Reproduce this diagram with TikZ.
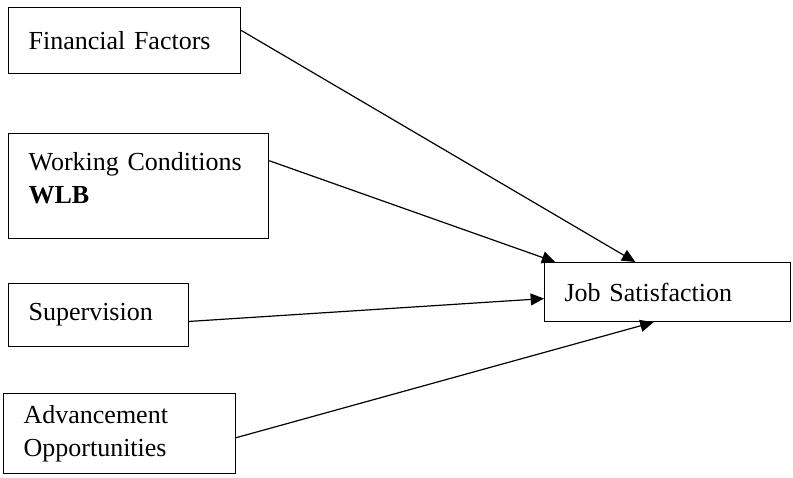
\documentclass[tikz,border=0pt]{standalone}
\usepackage{fontspec}
\setmainfont{Liberation Serif}
\usetikzlibrary{arrows.meta}
\tikzstyle{factor} = [rectangle,draw=black,line width=0.9pt,anchor=north west,
                      align=left,inner xsep=15pt,inner ysep=0pt,
                      font=\fontsize{19.5}{25}\selectfont]
\tikzstyle{arrow} = [line width=0.9pt,-{Triangle[length=10pt,width=9pt]}]

\begin{document}
\begin{tikzpicture}[x=0.75pt,y=-0.75pt]
 \useasboundingbox (0,0) rectangle (793,478);
 \node (FF) [factor,text width=144pt,minimum height=49.5pt] at (8,7) {Financial Factors};
 \node (WC) [factor,text width=165pt,minimum height=78.75pt] at (8,133)
            {Working Conditions\\\textbf{WLB}\\[-13pt]\mbox{}};
 \node (SU) [factor,text width=105pt,minimum height=47.25pt] at (8,283) {Supervision};
 \node (AO) [factor,text width=144pt,minimum height=60pt] at (3,393)
            {Advancement\\Opportunities};
 \node (JS) [factor,text width=154.5pt,minimum height=44.25pt] at (544,262) {Job Satisfaction};
 \draw [arrow] (FF.5) -- (JS.137);
 \draw [arrow] (WC.11) -- (JS.165);
 \draw [arrow] (SU.-4) -- (JS.183);
 \draw [arrow] (AO.-2) -- (JS.245);
\end{tikzpicture}
\end{document}
